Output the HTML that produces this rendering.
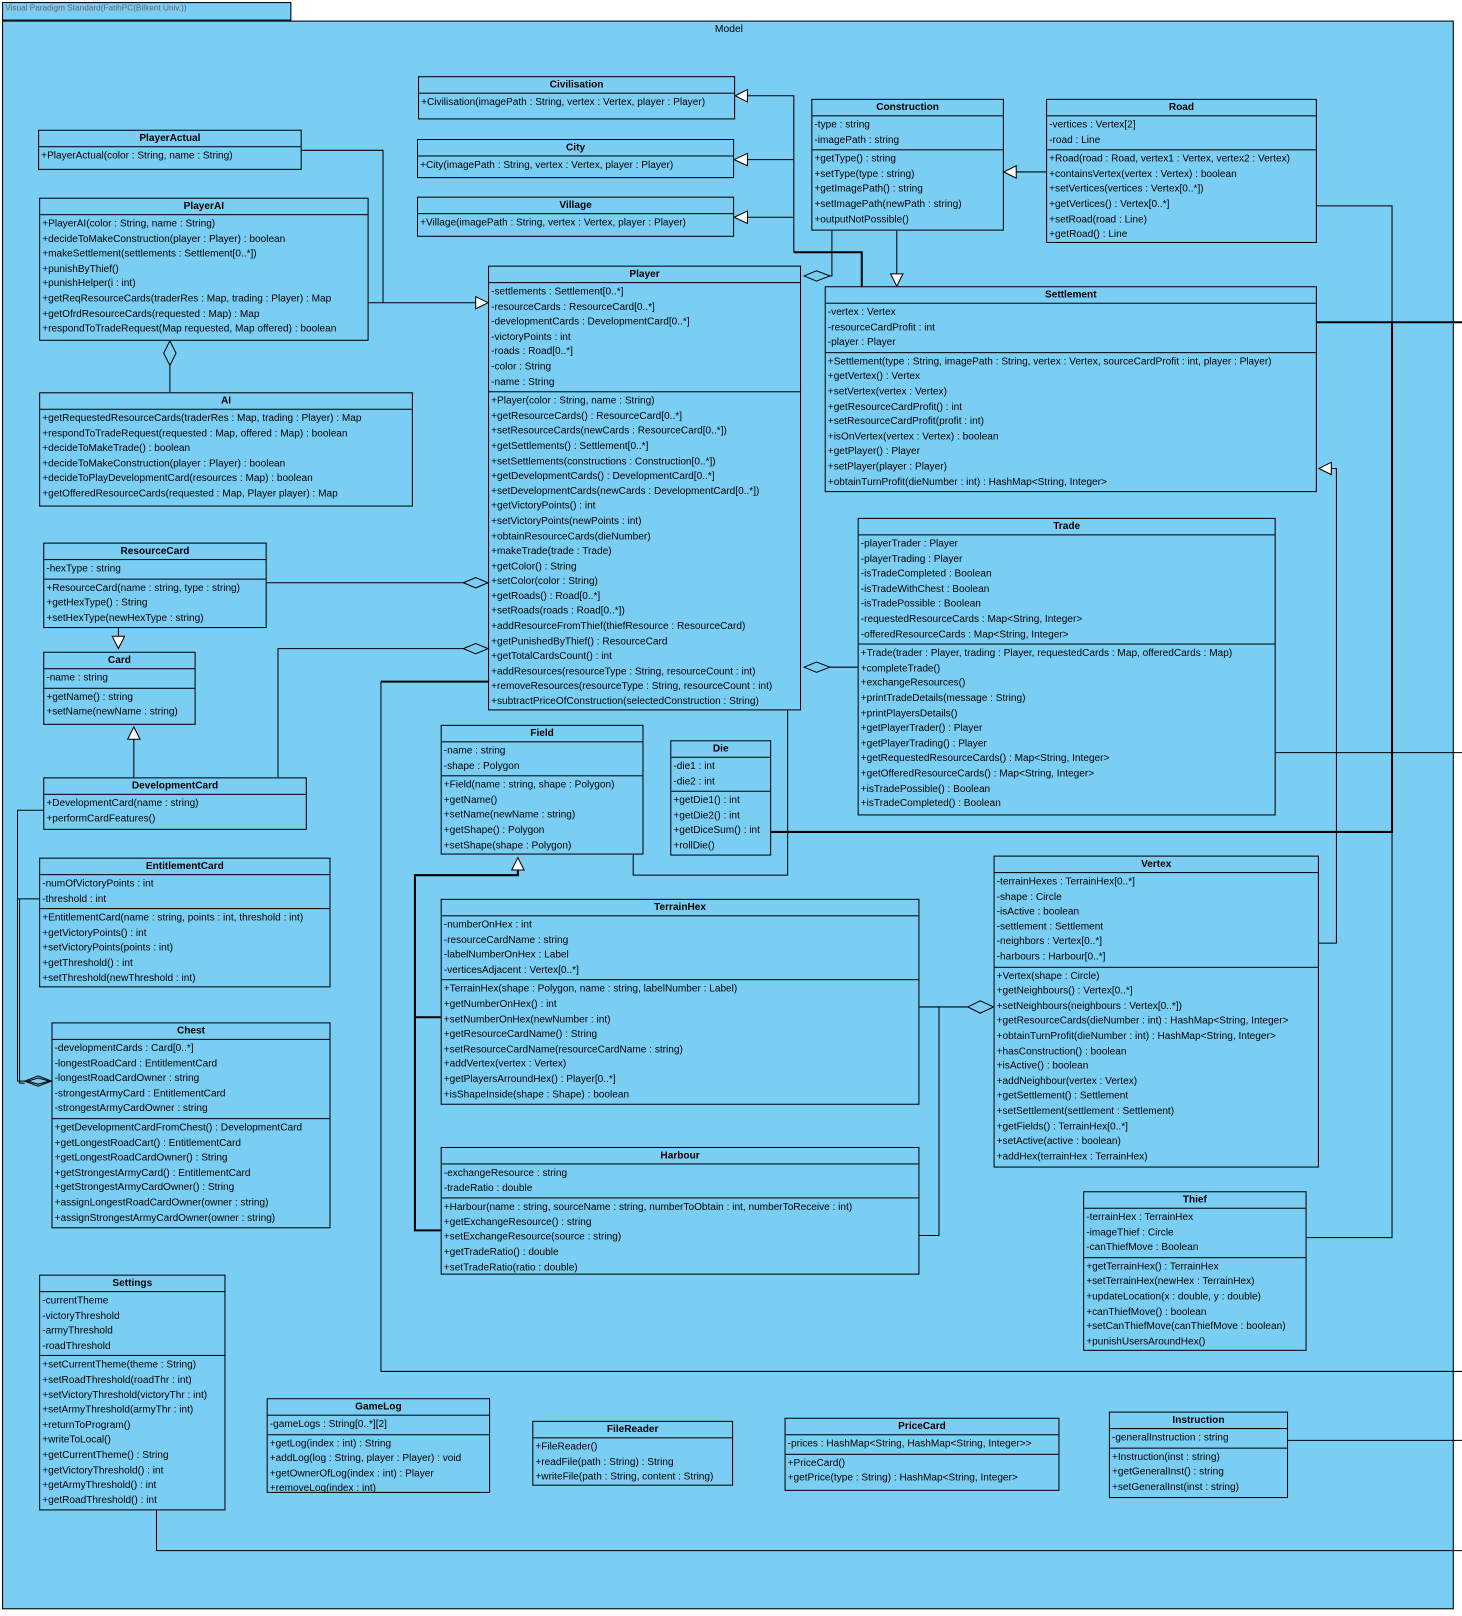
<!DOCTYPE html>
<html><head><meta charset="utf-8"><style>
html,body{margin:0;padding:0;background:#fff;}
body{width:1462px;height:1616px;overflow:hidden;position:relative;font-family:"Liberation Sans",Arial,sans-serif;}
#w{position:absolute;left:0;top:0;width:1420px;height:1570px;transform:scale(1.0296);transform-origin:0 0;}
#tab{position:absolute;left:2px;top:2px;width:281px;height:18px;background:#7acef4;border:1px solid #000;box-sizing:border-box;font-size:8px;color:#666;line-height:10px;padding-left:2px;}
#frame{position:absolute;left:2px;top:20px;width:1410px;height:1543px;background:#7acef4;border:1px solid #000;box-sizing:border-box;}
#mlabel{position:absolute;left:0;width:1410px;top:2px;text-align:center;font-size:10px;}
.b{position:absolute;border:1px solid #000;box-sizing:border-box;background:#7acef4;font-size:9.8px;color:#000;white-space:nowrap;}
.h{height:15px;line-height:15px;text-align:center;font-weight:bold;border-bottom:1px solid #000;}
.s{padding:2px 0 1px 2px;line-height:14.6px;border-bottom:1px solid #000;}
.s:last-child{border-bottom:none;}
svg{position:absolute;left:0;top:0;}
</style></head><body><div id="w">
<div id="tab">Visual Paradigm Standard(FatihPC(Bilkent Univ.))</div>
<div id="frame"><div id="mlabel">Model</div></div>

<svg width="1420" height="1570" viewBox="0 0 1420 1570" fill="none" stroke="#000" stroke-width="1">
<path d="M293,146H372V294M358,294H462"/>
<polygon points="462,288 474,294 462,300" fill="#fff"/>
<path d="M165,381V355"/><polygon points="165,331 171,343 165,355 159,343" fill="#7acef4"/>
<path d="M726,93H771V245M726,155H771M726,211H771"/>
<path d="M771,245H837V278" stroke-width="2"/>
<polygon points="726,87 714,93 726,99" fill="#fff"/>
<polygon points="726,149 713,155 726,161" fill="#fff"/>
<polygon points="726,205 713,211 726,217" fill="#fff"/>
<path d="M808,224V268H806"/><polygon points="781,268 793,263 806,268 793,273" fill="#7acef4"/>
<path d="M871,224V266"/><polygon points="865,266 871,278 877,266" fill="#fff"/>
<path d="M987,167H1016"/><polygon points="987,161 975,167 987,173" fill="#fff"/>
<path d="M1279,200H1352V313"/>
<path d="M1279,313H1420M1352,313V808H749" stroke-width="2"/>
<path d="M1269,1202H1352V808"/>
<path d="M1293,455H1298V916H1281"/><polygon points="1293,449 1281,455 1293,461" fill="#fff"/>
<path d="M1239,731H1420"/>
<path d="M806,648H833"/><polygon points="781,648 793,643 806,648 793,653" fill="#7acef4"/>
<path d="M259,566H450"/><polygon points="450,566 462,561 474,566 462,571" fill="#7acef4"/>
<path d="M270,755V630H450"/><polygon points="450,630 462,625 474,630 462,635" fill="#7acef4"/>
<path d="M115,610V618"/><polygon points="109,618 115,630 121,618" fill="#fff"/>
<path d="M130,755V718"/><polygon points="124,718 130,706 136,718" fill="#fff"/>
<path d="M42,787H17V1050H24M38,873H17M19,873V1052H24"/>
<polygon points="50,1050 37,1045 24,1050 37,1055" fill="#7acef4"/>
<polygon points="48,1050 37,1047 27,1050 37,1053" fill="none"/>
<path d="M765,690V850H615V830"/>
<path d="M474,662H370" stroke-width="2"/>
<path d="M370,662V1332H1420"/>
<polygon points="497,845 503,833 509,845" fill="#fff"/>
<path d="M503,845V850H403V1195H428M403,988H428" stroke-width="2"/>
<path d="M893,978H940M912,978V1200H893"/>
<polygon points="965,978 952,972 940,978 952,984" fill="#7acef4"/>
<path d="M152,1467V1506H1420"/>
<path d="M1251,1399H1420"/>
</svg>

<div class="b" style="left:406px;top:74px;width:308px;height:42px"><div class="h">Civilisation</div><div class="s" style="padding-top:2px">+Civilisation(imagePath : String, vertex : Vertex, player : Player)</div></div>
<div class="b" style="left:405px;top:135px;width:308px;height:38px"><div class="h">City</div><div class="s" style="padding-top:2px">+City(imagePath : String, vertex : Vertex, player : Player)</div></div>
<div class="b" style="left:405px;top:191px;width:308px;height:39px"><div class="h">Village</div><div class="s" style="padding-top:2px">+Village(imagePath : String, vertex : Vertex, player : Player)</div></div>
<div class="b" style="left:37px;top:126px;width:256px;height:39px"><div class="h">PlayerActual</div><div class="s" style="padding-top:2px">+PlayerActual(color : String, name : String)</div></div>

<div class="b" style="left:38px;top:192px;width:320px;height:139px"><div class="h">PlayerAI</div><div class="s">+PlayerAI(color : String, name : String)<br>+decideToMakeConstruction(player : Player) : boolean<br>+makeSettlement(settlements : Settlement[0..*])<br>+punishByThief()<br>+punishHelper(i : int)<br>+getReqResourceCards(traderRes : Map, trading : Player) : Map<br>+getOfrdResourceCards(requested : Map) : Map<br>+respondToTradeRequest(Map requested, Map offered) : boolean</div></div>

<div class="b" style="left:38px;top:381px;width:363px;height:111px"><div class="h">AI</div><div class="s">+getRequestedResourceCards(traderRes : Map, trading : Player) : Map<br>+respondToTradeRequest(requested : Map, offered : Map) : boolean<br>+decideToMakeTrade() : boolean<br>+decideToMakeConstruction(player : Player) : boolean<br>+decideToPlayDevelopmentCard(resources : Map) : boolean<br>+getOfferedResourceCards(requested : Map, Player player) : Map</div></div>

<div class="b" style="left:788px;top:96px;width:187px;height:128px"><div class="h">Construction</div><div class="s">-type : string<br>-imagePath : string</div><div class="s">+getType() : string<br>+setType(type : string)<br>+getImagePath() : string<br>+setImagePath(newPath : string)<br>+outputNotPossible()</div></div>

<div class="b" style="left:1016px;top:96px;width:263px;height:140px"><div class="h">Road</div><div class="s">-vertices : Vertex[2]<br>-road : Line</div><div class="s">+Road(road : Road, vertex1 : Vertex, vertex2 : Vertex)<br>+containsVertex(vertex : Vertex) : boolean<br>+setVertices(vertices : Vertex[0..*])<br>+getVertices() : Vertex[0..*]<br>+setRoad(road : Line)<br>+getRoad() : Line</div></div>

<div class="b" style="left:474px;top:258px;width:304px;height:432px"><div class="h">Player</div><div class="s">-settlements : Settlement[0..*]<br>-resourceCards : ResourceCard[0..*]<br>-developmentCards : DevelopmentCard[0..*]<br>-victoryPoints : int<br>-roads : Road[0..*]<br>-color : String<br>-name : String</div><div class="s">+Player(color : String, name : String)<br>+getResourceCards() : ResourceCard[0..*]<br>+setResourceCards(newCards : ResourceCard[0..*])<br>+getSettlements() : Settlement[0..*]<br>+setSettlements(constructions : Construction[0..*])<br>+getDevelopmentCards() : DevelopmentCard[0..*]<br>+setDevelopmentCards(newCards : DevelopmentCard[0..*])<br>+getVictoryPoints() : int<br>+setVictoryPoints(newPoints : int)<br>+obtainResourceCards(dieNumber)<br>+makeTrade(trade : Trade)<br>+getColor() : String<br>+setColor(color : String)<br>+getRoads() : Road[0..*]<br>+setRoads(roads : Road[0..*])<br>+addResourceFromThief(thiefResource : ResourceCard)<br>+getPunishedByThief() : ResourceCard<br>+getTotalCardsCount() : int<br>+addResources(resourceType : String, resourceCount : int)<br>+removeResources(resourceType : String, resourceCount : int)<br>+subtractPriceOfConstruction(selectedConstruction : String)</div></div>

<div class="b" style="left:801px;top:278px;width:478px;height:200px"><div class="h">Settlement</div><div class="s">-vertex : Vertex<br>-resourceCardProfit : int<br>-player : Player</div><div class="s">+Settlement(type : String, imagePath : String, vertex : Vertex, sourceCardProfit : int, player : Player)<br>+getVertex() : Vertex<br>+setVertex(vertex : Vertex)<br>+getResourceCardProfit() : int<br>+setResourceCardProfit(profit : int)<br>+isOnVertex(vertex : Vertex) : boolean<br>+getPlayer() : Player<br>+setPlayer(player : Player)<br>+obtainTurnProfit(dieNumber : int) : HashMap&lt;String, Integer&gt;</div></div>

<div class="b" style="left:833px;top:503px;width:406px;height:289px"><div class="h">Trade</div><div class="s">-playerTrader : Player<br>-playerTrading : Player<br>-isTradeCompleted : Boolean<br>-isTradeWithChest : Boolean<br>-isTradePossible : Boolean<br>-requestedResourceCards : Map&lt;String, Integer&gt;<br>-offeredResourceCards : Map&lt;String, Integer&gt;</div><div class="s">+Trade(trader : Player, trading : Player, requestedCards : Map, offeredCards : Map)<br>+completeTrade()<br>+exchangeResources()<br>+printTradeDetails(message : String)<br>+printPlayersDetails()<br>+getPlayerTrader() : Player<br>+getPlayerTrading() : Player<br>+getRequestedResourceCards() : Map&lt;String, Integer&gt;<br>+getOfferedResourceCards() : Map&lt;String, Integer&gt;<br>+isTradePossible() : Boolean<br>+isTradeCompleted() : Boolean</div></div>

<div class="b" style="left:42px;top:527px;width:217px;height:83px"><div class="h">ResourceCard</div><div class="s">-hexType : string</div><div class="s">+ResourceCard(name : string, type : string)<br>+getHexType() : String<br>+setHexType(newHexType : string)</div></div>

<div class="b" style="left:42px;top:633px;width:148px;height:71px"><div class="h">Card</div><div class="s">-name : string</div><div class="s">+getName() : string<br>+setName(newName : string)</div></div>

<div class="b" style="left:42px;top:755px;width:256px;height:51px"><div class="h">DevelopmentCard</div><div class="s" style="padding-top:2px">+DevelopmentCard(name : string)<br>+performCardFeatures()</div></div>

<div class="b" style="left:38px;top:833px;width:283px;height:126px"><div class="h">EntitlementCard</div><div class="s">-numOfVictoryPoints : int<br>-threshold : int</div><div class="s">+EntitlementCard(name : string, points : int, threshold : int)<br>+getVictoryPoints() : int<br>+setVictoryPoints(points : int)<br>+getThreshold() : int<br>+setThreshold(newThreshold : int)</div></div>

<div class="b" style="left:50px;top:993px;width:271px;height:200px"><div class="h">Chest</div><div class="s">-developmentCards : Card[0..*]<br>-longestRoadCard : EntitlementCard<br>-longestRoadCardOwner : string<br>-strongestArmyCard : EntitlementCard<br>-strongestArmyCardOwner : string</div><div class="s">+getDevelopmentCardFromChest() : DevelopmentCard<br>+getLongestRoadCart() : EntitlementCard<br>+getLongestRoadCardOwner() : String<br>+getStrongestArmyCard() : EntitlementCard<br>+getStrongestArmyCardOwner() : String<br>+assignLongestRoadCardOwner(owner : string)<br>+assignStrongestArmyCardOwner(owner : string)</div></div>

<div class="b" style="left:38px;top:1238px;width:181px;height:229px"><div class="h">Settings</div><div class="s">-currentTheme<br>-victoryThreshold<br>-armyThreshold<br>-roadThreshold</div><div class="s">+setCurrentTheme(theme : String)<br>+setRoadThreshold(roadThr : int)<br>+setVictoryThreshold(victoryThr : int)<br>+setArmyThreshold(armyThr : int)<br>+returnToProgram()<br>+writeToLocal()<br>+getCurrentTheme() : String<br>+getVictoryThreshold() : int<br>+getArmyThreshold() : int<br>+getRoadThreshold() : int</div></div>

<div class="b" style="left:428px;top:704px;width:197px;height:126px"><div class="h">Field</div><div class="s">-name : string<br>-shape : Polygon</div><div class="s">+Field(name : string, shape : Polygon)<br>+getName()<br>+setName(newName : string)<br>+getShape() : Polygon<br>+setShape(shape : Polygon)</div></div>

<div class="b" style="left:651px;top:719px;width:98px;height:112px"><div class="h">Die</div><div class="s">-die1 : int<br>-die2 : int</div><div class="s">+getDie1() : int<br>+getDie2() : int<br>+getDiceSum() : int<br>+rollDie()</div></div>

<div class="b" style="left:428px;top:873px;width:465px;height:200px"><div class="h">TerrainHex</div><div class="s">-numberOnHex : int<br>-resourceCardName : string<br>-labelNumberOnHex : Label<br>-verticesAdjacent : Vertex[0..*]</div><div class="s">+TerrainHex(shape : Polygon, name : string, labelNumber : Label)<br>+getNumberOnHex() : int<br>+setNumberOnHex(newNumber : int)<br>+getResourceCardName() : String<br>+setResourceCardName(resourceCardName : string)<br>+addVertex(vertex : Vertex)<br>+getPlayersArroundHex() : Player[0..*]<br>+isShapeInside(shape : Shape) : boolean</div></div>

<div class="b" style="left:428px;top:1114px;width:465px;height:124px"><div class="h">Harbour</div><div class="s">-exchangeResource : string<br>-tradeRatio : double</div><div class="s">+Harbour(name : string, sourceName : string, numberToObtain : int, numberToReceive : int)<br>+getExchangeResource() : string<br>+setExchangeResource(source : string)<br>+getTradeRatio() : double<br>+setTradeRatio(ratio : double)</div></div>

<div class="b" style="left:965px;top:831px;width:316px;height:303px"><div class="h">Vertex</div><div class="s">-terrainHexes : TerrainHex[0..*]<br>-shape : Circle<br>-isActive : boolean<br>-settlement : Settlement<br>-neighbors : Vertex[0..*]<br>-harbours : Harbour[0..*]</div><div class="s">+Vertex(shape : Circle)<br>+getNeighbours() : Vertex[0..*]<br>+setNeighbours(neighbours : Vertex[0..*])<br>+getResourceCards(dieNumber : int) : HashMap&lt;String, Integer&gt;<br>+obtainTurnProfit(dieNumber : int) : HashMap&lt;String, Integer&gt;<br>+hasConstruction() : boolean<br>+isActive() : boolean<br>+addNeighbour(vertex : Vertex)<br>+getSettlement() : Settlement<br>+setSettlement(settlement : Settlement)<br>+getFields() : TerrainHex[0..*]<br>+setActive(active : boolean)<br>+addHex(terrainHex : TerrainHex)</div></div>

<div class="b" style="left:1052px;top:1157px;width:217px;height:155px"><div class="h">Thief</div><div class="s">-terrainHex : TerrainHex<br>-imageThief : Circle<br>-canThiefMove : Boolean</div><div class="s">+getTerrainHex() : TerrainHex<br>+setTerrainHex(newHex : TerrainHex)<br>+updateLocation(x : double, y : double)<br>+canThiefMove() : boolean<br>+setCanThiefMove(canThiefMove : boolean)<br>+punishUsersAroundHex()</div></div>

<div class="b" style="left:259px;top:1358px;width:217px;height:92px"><div class="h">GameLog</div><div class="s">-gameLogs : String[0..*][2]</div><div class="s">+getLog(index : int) : String<br>+addLog(log : String, player : Player) : void<br>+getOwnerOfLog(index : int) : Player<br>+removeLog(index : int)</div></div>

<div class="b" style="left:517px;top:1380px;width:195px;height:63px"><div class="h">FileReader</div><div class="s" style="padding-top:2px">+FileReader()<br>+readFile(path : String) : String<br>+writeFile(path : String, content : String)</div></div>

<div class="b" style="left:762px;top:1377px;width:267px;height:71px"><div class="h">PriceCard</div><div class="s">-prices : HashMap&lt;String, HashMap&lt;String, Integer&gt;&gt;</div><div class="s">+PriceCard()<br>+getPrice(type : String) : HashMap&lt;String, Integer&gt;</div></div>

<div class="b" style="left:1077px;top:1371px;width:174px;height:84px"><div class="h">Instruction</div><div class="s">-generalInstruction : string</div><div class="s">+Instruction(inst : string)<br>+getGeneralInst() : string<br>+setGeneralInst(inst : string)</div></div>

</div></body></html>
